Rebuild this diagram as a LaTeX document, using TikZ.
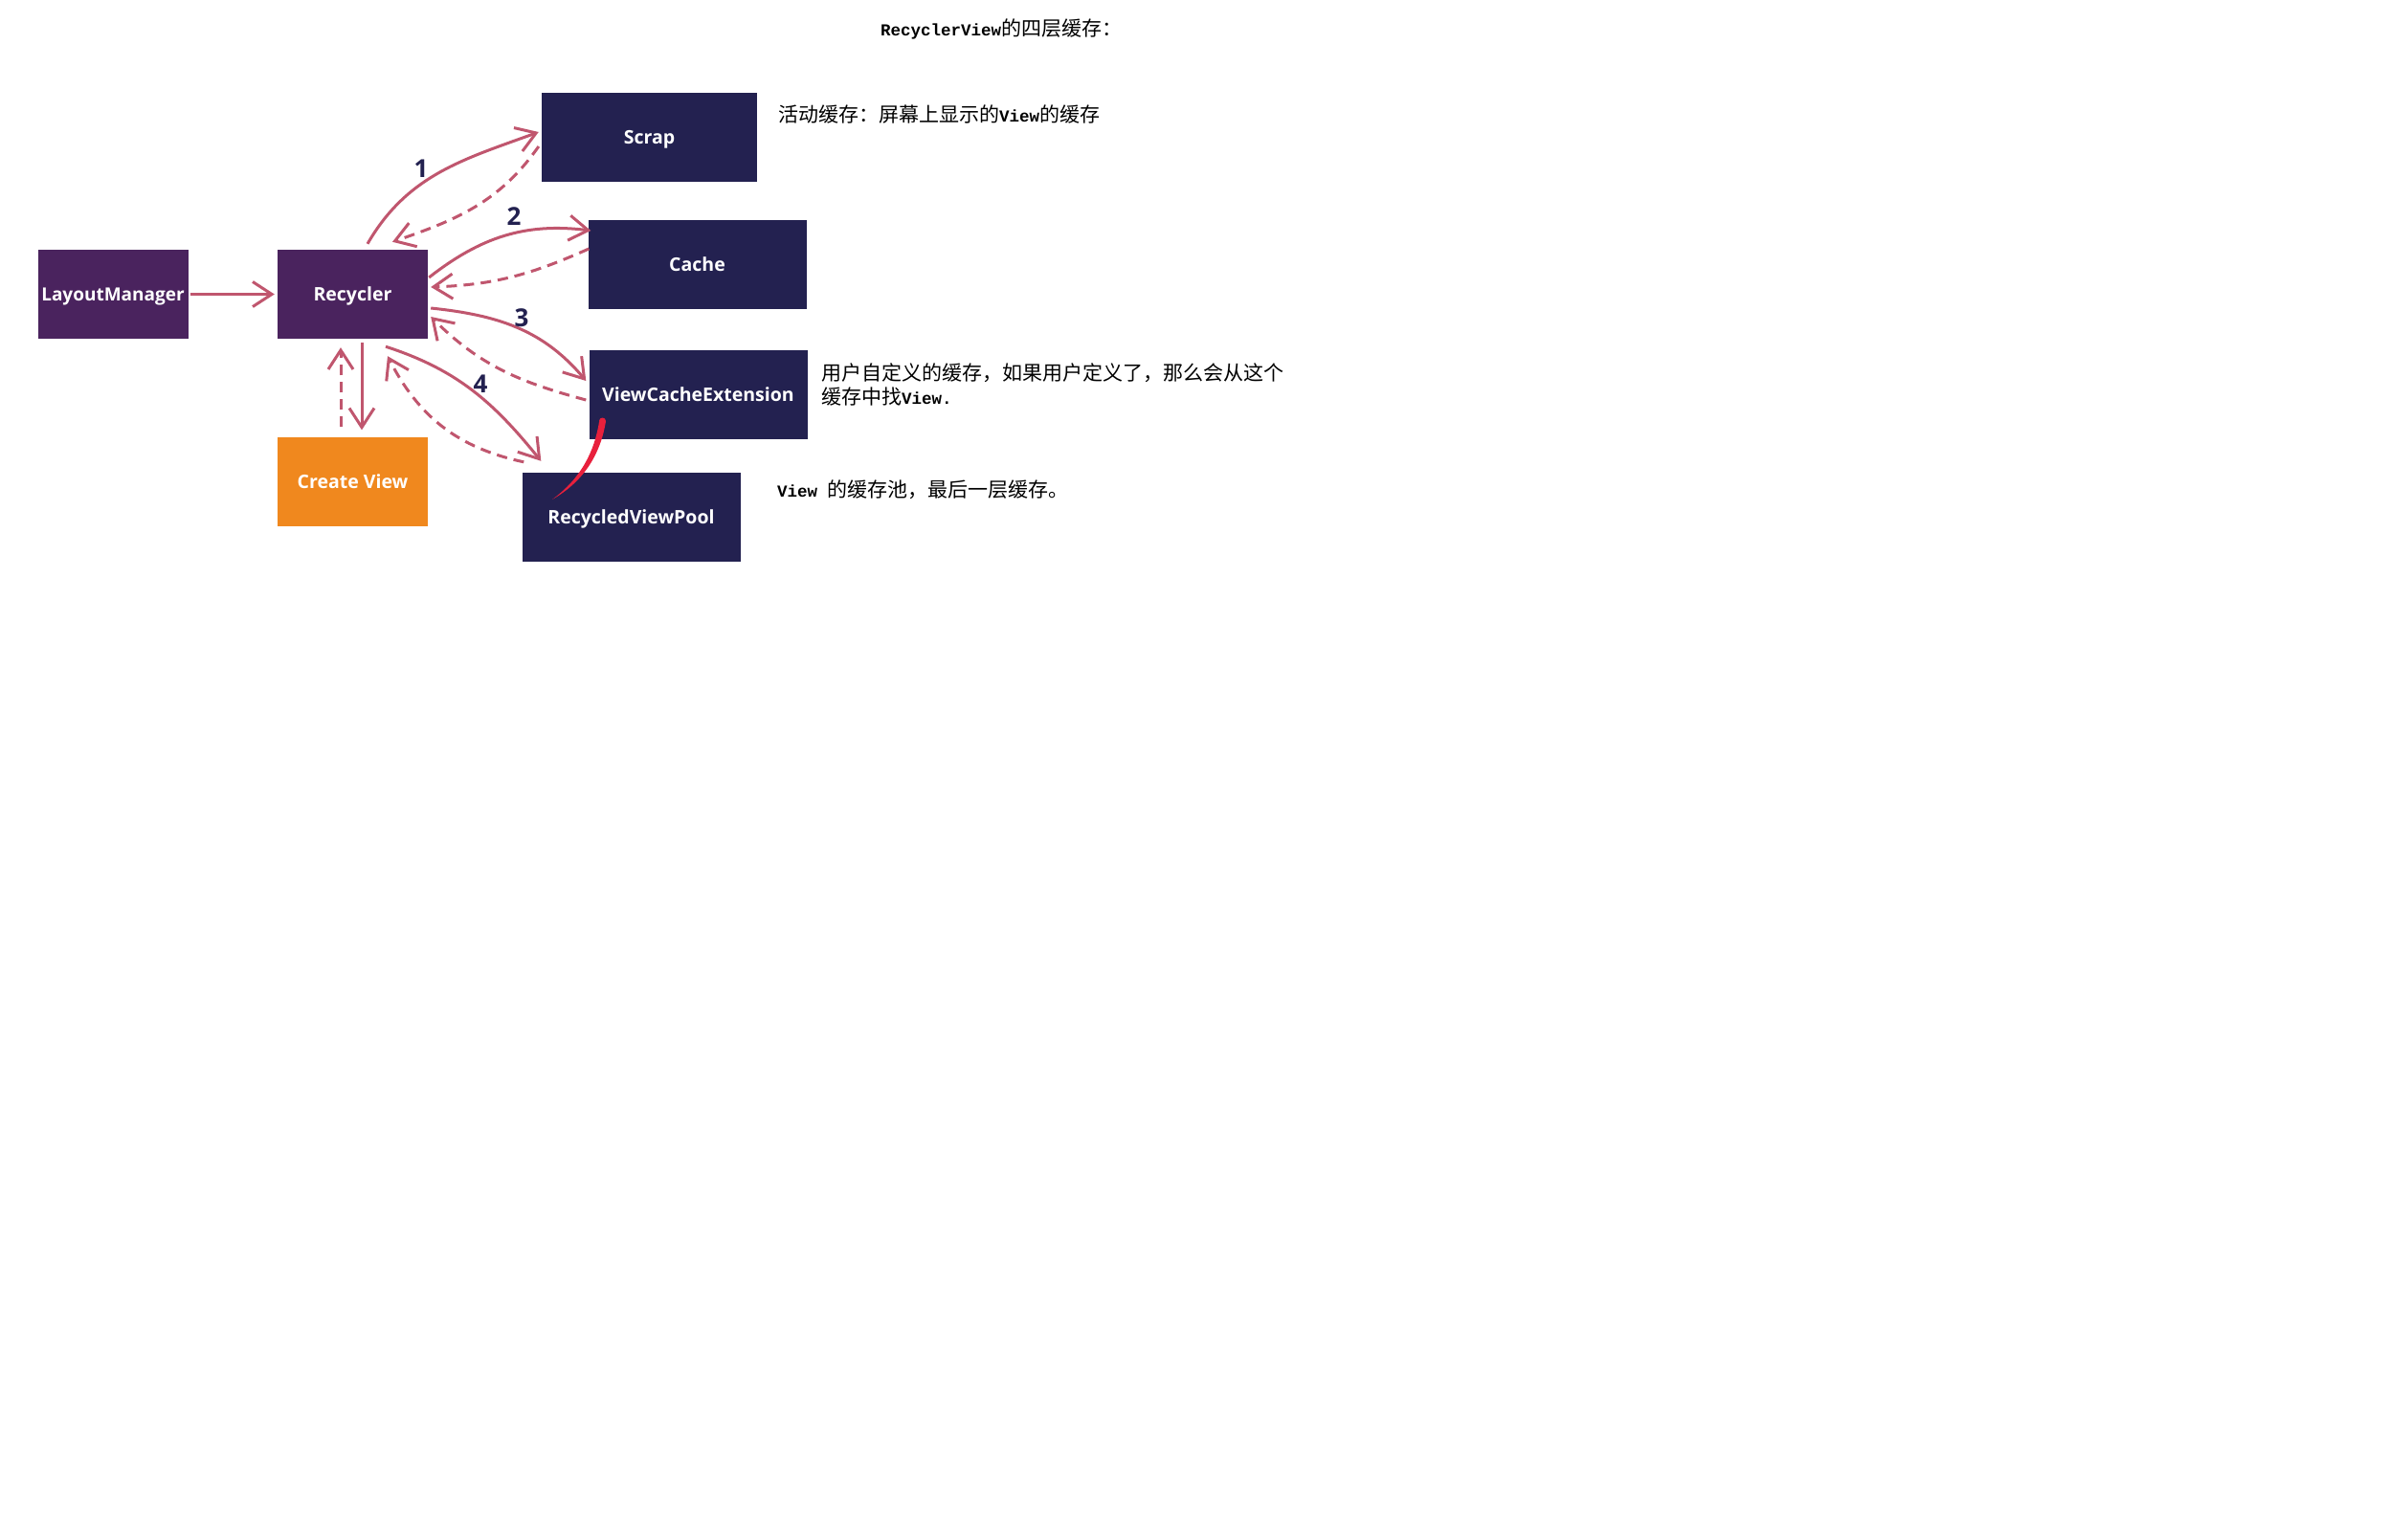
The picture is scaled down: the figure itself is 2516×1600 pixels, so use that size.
\documentclass[tikz,border=0pt]{standalone}
\usepackage{fontspec}
\usetikzlibrary{arrows.meta}
\setmainfont{Open Sans}
\newfontfamily\cjkfont{Noto Sans CJK SC}
\newfontfamily\latinmono{Liberation Mono}
\newcommand\monotxt[1]{{\fontsize{17.5pt}{25pt}\selectfont\latinmono\bfseries #1}}
\definecolor{boxpurple}{RGB}{74,35,94}
\definecolor{boxnavy}{RGB}{35,33,80}
\definecolor{vieworange}{RGB}{240,136,30}
\definecolor{arrowred}{RGB}{192,86,110}
\definecolor{penred}{RGB}{232,32,60}

\begin{document}
\begin{tikzpicture}[
        x=1pt, y=1pt, % 1pt = 1px
        >={Straight Barb[length=20pt,width=26pt]},
        box/.style={rectangle, minimum width=157pt, minimum height=93pt, inner sep=0pt,
                text=white, text height=14pt, text depth=0pt,
                font=\fontsize{19.5pt}{23pt}\selectfont\bfseries}, % general box
        recbox/.style={box, fill=boxpurple},
        cachebox/.style={box, fill=boxnavy, minimum width=228pt}, % cache levels
        flow/.style={->, draw=arrowred, line width=3pt},
        back/.style={flow, dash pattern=on 11pt off 7pt}, % return path
        num/.style={text=boxnavy, font=\fontsize{26pt}{28pt}\selectfont\bfseries},
        note/.style={anchor=west, inner sep=0pt, align=left,
                font=\fontsize{21pt}{25pt}\selectfont\cjkfont},
        pen/.style={fill=penred},
    ]
    \useasboundingbox (0,0) rectangle (2516,-1600);

    % boxes
    \node[recbox, font=\fontsize{19pt}{23pt}\selectfont\bfseries] (lm) at (118,-307.5) {LayoutManager};
    \node[recbox] (rec) at (368.5,-307.5) {Recycler};
    \node[box, fill=vieworange] (cv) at (368.5,-503) {Create View};
    \node[cachebox, minimum width=225pt] (scrap) at (678.5,-143.5) {Scrap};
    \node[cachebox] (cache) at (728.5,-276) {Cache};
    \node[cachebox] (vce) at (729.5,-412.5) {ViewCacheExtension};
    \node[cachebox] (pool) at (659.5,-540.5) {RecycledViewPool};

    % arrows
    \draw[flow, shorten <=2pt, shorten >=3pt] (lm) -- (rec);
    \draw[flow] ([xshift=9.5pt,yshift=-4pt]rec.south) -- ([xshift=9.5pt,yshift=7pt]cv.north);
    \draw[back] ([xshift=-12.5pt,yshift=10pt]cv.north) -- ([xshift=-12.5pt,yshift=-9pt]rec.south);

    \draw[flow] ([xshift=15.5pt,yshift=6pt]rec.north) to[out=60,in=200] ([xshift=-3pt,yshift=5.5pt]scrap.west);
    \draw[back] ([xshift=-3pt,yshift=-9.5pt]scrap.west) to[out=235,in=19] ([xshift=41.5pt,yshift=8pt]rec.north);

    \draw[flow] ([xshift=1pt,yshift=17.5pt]rec.east) to[out=38,in=173] ([xshift=3pt,yshift=35pt]cache.west);
    \draw[back] ([xshift=1pt,yshift=16pt]cache.west) to[out=204,in=2] ([xshift=3pt,yshift=7.5pt]rec.east);

    \draw[flow] ([xshift=3pt,yshift=-14.5pt]rec.east) to[out=-6,in=130] ([xshift=-3pt,yshift=14.5pt]vce.west);
    \draw[back] ([xshift=-3pt,yshift=-5.5pt]vce.west) to[out=165,in=-45] ([xshift=3pt,yshift=-23.5pt]rec.east);

    \draw[flow] ([xshift=34.5pt,yshift=-8pt]rec.south) to[out=-18,in=129] ([xshift=20pt,yshift=12pt]pool.north west);
    \draw[back] ([xshift=2pt,yshift=11pt]pool.north west) to[out=168,in=-63] ([xshift=36.5pt,yshift=-18pt]rec.south);

    % numbers
    \node[num] (n1) at (440,-176) {1};
    \node[num] (n2) at (537,-226) {2};
    \node[num] (n3) at (545,-332) {3};
    \node[num] (n4) at (502,-401) {4};

    % red pen stroke
    \fill[pen] (633,-440) .. controls (628,-472) and (612,-502) .. (577,-522)
        .. controls (607,-500) and (621,-472) .. (626,-441) -- cycle;
    \fill[pen] (629.5,-440) circle (3.5pt);

    % texts
    \node[note] (title) at (920,-30) {\monotxt{RecyclerView}的四层缓存：};
    \node[note] (noteScrap) at (813,-120) {活动缓存：屏幕上显示的\monotxt{View}的缓存};
    \node[note] (noteExt) at (858,-401.5) {用户自定义的缓存，如果用户定义了，那么会从这个\\缓存中找\monotxt{View.}};
    \node[note] (notePool) at (812,-512) {\monotxt{View }的缓存池，最后一层缓存。};
\end{tikzpicture}
\end{document}
